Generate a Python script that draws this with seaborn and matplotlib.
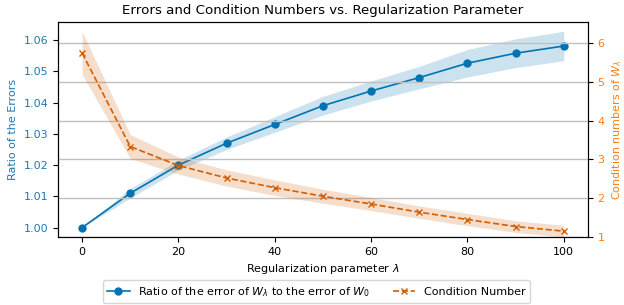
import numpy as np
import pandas as pd
import matplotlib
matplotlib.use("Agg")
import matplotlib.pyplot as plt
import seaborn as sns

# values
lambdas = [0, 10, 20, 30, 40, 50, 60, 70, 80, 90, 100]
ratio = [1.000, 1.011, 1.020, 1.027, 1.033, 1.039, 1.0437, 1.048, 1.0526, 1.0558, 1.0581]
ratio_err = [0.0, 0.0015, 0.0016, 0.002, 0.0025, 0.003, 0.0032, 0.0036, 0.0044, 0.0046, 0.0047]
cond = [5.74, 3.33, 2.84, 2.52, 2.27, 2.05, 1.85, 1.64, 1.45, 1.27, 1.15]
cond_err = [0.55, 0.31, 0.22, 0.21, 0.2, 0.18, 0.17, 0.16, 0.16, 0.15, 0.15]

df = pd.DataFrame({"lam": lambdas, "ratio": ratio, "ratio_err": ratio_err,
                   "cond": cond, "cond_err": cond_err})

plt.rcParams["font.size"] = 8
plt.rcParams["axes.titlesize"] = 9.6
plt.rcParams["lines.linewidth"] = 1.2

pal = sns.color_palette("colorblind")
c_blue, c_orange = pal[0], pal[3]

fig, ax1 = plt.subplots(figsize=(6.24, 3.05), dpi=100)
ax2 = ax1.twinx()

sns.lineplot(data=df, x="lam", y="ratio", ax=ax1, color=c_blue, marker="o",
             markersize=6, markeredgewidth=0,
             label=r"Ratio of the error of $W_\lambda$ to the error of $W_0$", legend=False)
ax1.fill_between(df["lam"], df["ratio"] - df["ratio_err"], df["ratio"] + df["ratio_err"],
                 color=c_blue, alpha=0.2, linewidth=0)

sns.lineplot(data=df, x="lam", y="cond", ax=ax2, color=c_orange, marker="x",
             markersize=5, markeredgecolor=c_orange, markeredgewidth=1.0,
             linestyle="--", label="Condition Number", legend=False)
ax2.fill_between(df["lam"], df["cond"] - df["cond_err"], df["cond"] + df["cond_err"],
                 color=c_orange, alpha=0.2, linewidth=0)

ax1.set_xlabel(r"Regularization parameter $\lambda$")
ax1.set_ylabel("Ratio of the Errors", color="tab:blue")
ax1.tick_params(axis="y", labelcolor="tab:blue")
ax2.set_ylabel(r"Condition numbers of $W_\lambda$", color="tab:orange")
ax2.tick_params(axis="y", labelcolor="tab:orange")
ax1.set_xticks([0, 20, 40, 60, 80, 100])
ax1.set_ylim(0.997, 1.0658)
ax2.set_ylim(1.0, 6.54)
ax2.grid(True, color="#c0c0c0", linewidth=1)
ax2.set_axisbelow(True)

ax1.set_title("Errors and Condition Numbers vs. Regularization Parameter")

h1, l1 = ax1.get_legend_handles_labels()
h2, l2 = ax2.get_legend_handles_labels()
fig.legend(h1 + h2, l1 + l2, loc="lower center", bbox_to_anchor=(0.507, -0.012), ncol=2)

fig.subplots_adjust(left=0.093, right=0.942, top=0.928, bottom=0.223)
fig.savefig("out.png", dpi=100)
